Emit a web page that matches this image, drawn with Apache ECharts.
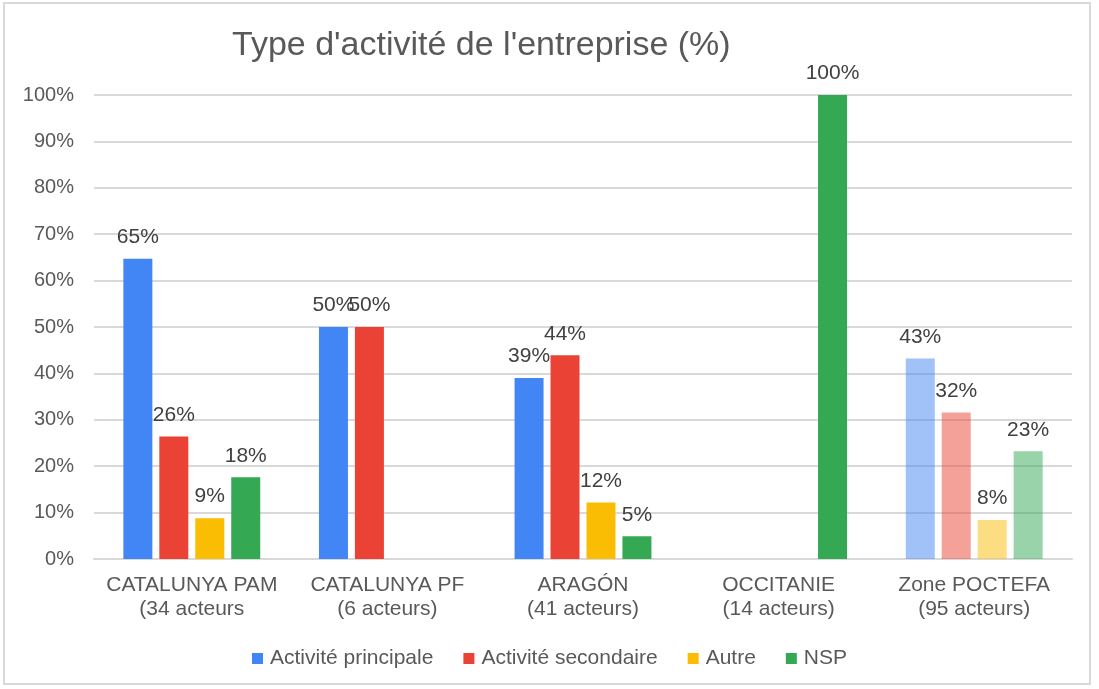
<!DOCTYPE html>
<html>
<head>
<meta charset="utf-8">
<script src="https://cdn.jsdelivr.net/npm/echarts@6/dist/echarts.min.js"></script>
<style>
  html, body { margin: 0; padding: 0; background: #fff; }
  #myChart { position: absolute; left: 0; top: 0; width: 1099px; height: 689px; }
  .frame { position: absolute; left: 3px; top: 2px; width: 1088px; height: 683px; border: 2px solid #d9d9d9; box-sizing: border-box; pointer-events: none; }
</style>
</head>
<body>
<div id="myChart"></div>
<div class="frame"></div>
<script>
const categories = ['CATALUNYA PAM\n(34 acteurs', 'CATALUNYA PF\n(6 acteurs)', 'ARAGÓN\n(41 acteurs)', 'OCCITANIE\n(14 acteurs)', 'Zone POCTEFA\n(95 acteurs)']
const seriesNames = ['Activité principale', 'Activité secondaire', 'Autre', 'NSP']
const principale = [64.7, 50, 39.0, null, 43.2]
const secondaire = [26.4, 50, 43.9, null, 31.6]
const autre = [8.8, null, 12.2, null, 8.4]
const nsp = [17.6, null, 4.9, 100, 23.2]
const yTicks = [0, 10, 20, 30, 40, 50, 60, 70, 80, 90, 100]

const colors = ['#4285F4', '#EA4335', '#FBBC04', '#34A853']
const textColor = '#595959'
const font = 'Liberation Sans, Arial, sans-serif'

// last group (Zone POCTEFA) drawn faded
function build (values, color) {
  return values.map((v, i) => i === categories.length - 1
    ? { value: v, itemStyle: { color: echarts.color.modifyAlpha(color, 0.5) } }
    : v)
}

const allSeries = [principale, secondaire, autre, nsp].map((vals, k) => ({
  name: seriesNames[k],
  type: 'bar',
  barWidth: 29,
  barGap: '24%',
  itemStyle: { color: colors[k] },
  label: {
    show: true,
    position: 'top',
    distance: 11,
    color: '#404040',
    fontFamily: font,
    fontSize: 21,
    formatter: p => p.value == null ? '' : Math.round(p.value) + '%'
  },
  data: build(vals, colors[k])
}))

let myChart = echarts.init(document.getElementById('myChart'))
myChart.setOption({
  animation: false,
  title: {
    text: "Type d'activité de l'entreprise (%)",
    left: 227,
    top: 24,
    textStyle: { color: textColor, fontFamily: font, fontSize: 34, fontWeight: 'normal' }
  },
  legend: {
    data: seriesNames,
    top: 643,
    left: 'center',
    itemWidth: 11,
    itemHeight: 11,
    itemGap: 30,
    icon: 'rect',
    textStyle: { color: textColor, fontFamily: font, fontSize: 21, padding: [0, 0, 0, 2] }
  },
  grid: { left: 94, right: 27, top: 95, bottom: 130 },
  xAxis: {
    type: 'category',
    data: categories,
    axisTick: { show: false },
    axisLine: { lineStyle: { color: '#d9d9d9', width: 2 } },
    axisLabel: { interval: 0, color: textColor, fontFamily: font, fontSize: 21, lineHeight: 24, margin: 14 }
  },
  yAxis: {
    type: 'value',
    min: yTicks[0],
    max: yTicks[yTicks.length - 1],
    interval: 10,
    axisLabel: { color: textColor, fontFamily: font, fontSize: 20, margin: 20, formatter: v => v + '%' },
    splitLine: { lineStyle: { color: '#d9d9d9', width: 2 } }
  },
  series: allSeries
})
</script>
</body>
</html>
